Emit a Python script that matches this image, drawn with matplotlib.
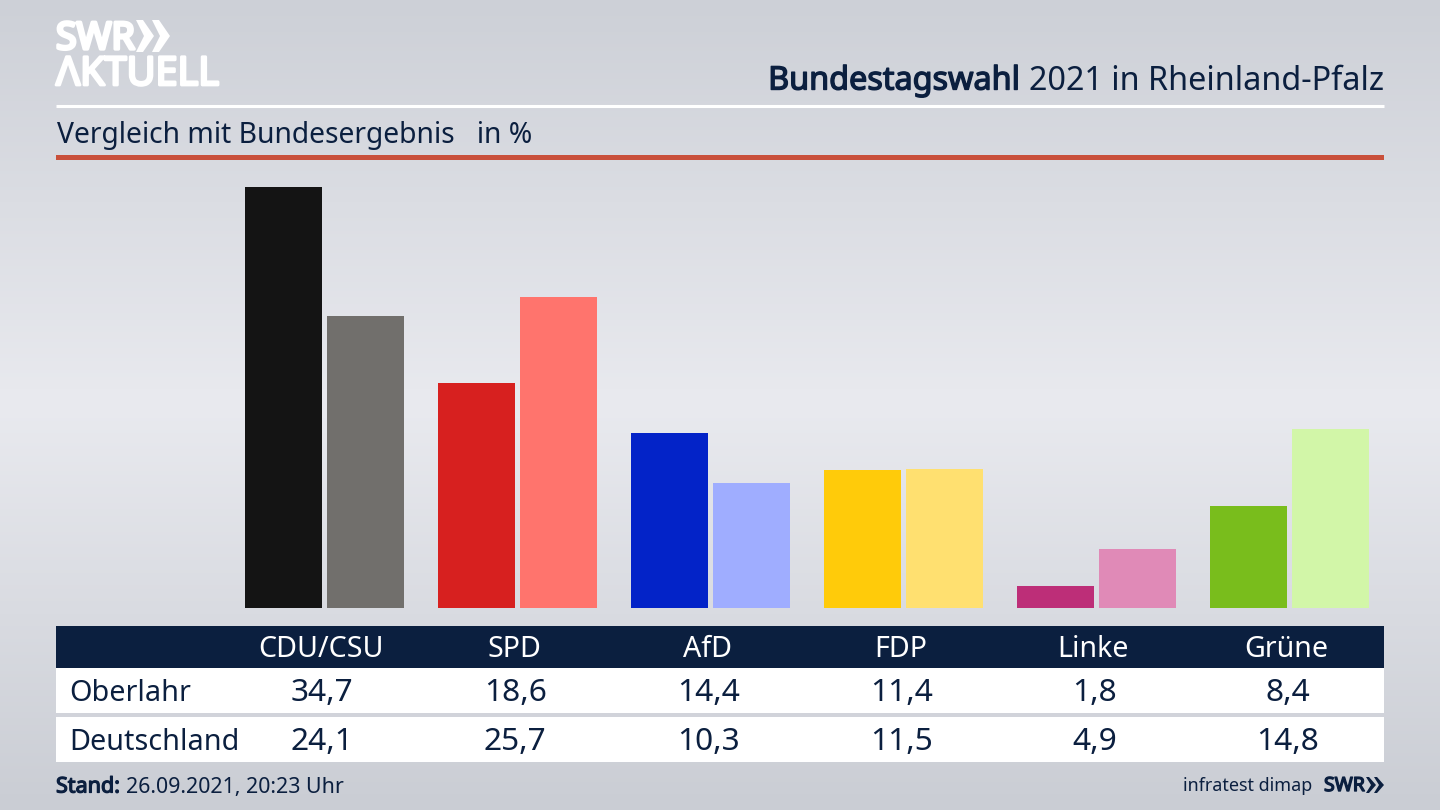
import numpy as np
import matplotlib
matplotlib.use("Agg")
import matplotlib.pyplot as plt
import matplotlib.patheffects as pe
from matplotlib.patches import Rectangle, Polygon
from matplotlib.colors import LinearSegmentedColormap

parties = ["CDU/CSU", "SPD", "AfD", "FDP", "Linke", "Grüne"]
oberlahr = [34.7, 18.6, 14.4, 11.4, 1.8, 8.4]
deutschland = [24.1, 25.7, 10.3, 11.5, 4.9, 14.8]
colors_o = ["#141414", "#d7201f", "#0323c8", "#ffcb0a", "#bd2e78", "#79bd1c"]
colors_d = ["#716f6c", "#ff746d", "#9fadff", "#ffe070", "#e08ab7", "#d2f6a8"]
row_labels = ["Oberlahr", "Deutschland"]

NAVY = "#0b1f3f"
FONT = "Noto Sans"
plt.rcParams["font.family"] = [FONT, "DejaVu Sans"]

W, H = 1440, 810
fig = plt.figure(figsize=(W / 100, H / 100), dpi=100)


def heavy(color, width):
    return [pe.withStroke(linewidth=width, foreground=color)]


# page layer in pixel coordinates
bg = fig.add_axes([0, 0, 1, 1])
bg.set_xlim(0, W)
bg.set_ylim(H, 0)
bg.axis("off")
cmap = LinearSegmentedColormap.from_list("page", ["#cdd0d7", "#e9eaef", "#cacdd4"])
bg.imshow(np.linspace(0, 1, 256)[:, None], cmap=cmap, extent=(0, W, H, 0), aspect="auto", zorder=0)

# logo
bg.text(56, 39, "SWR", color="white", fontsize=27, va="center", ha="left",
        path_effects=heavy("white", 2.4))
for dx in (0, 16):
    x0 = 136 + dx
    bg.add_patch(Polygon([(x0, 20), (x0 + 7, 20), (x0 + 18, 36), (x0 + 7, 52), (x0, 52), (x0 + 8, 36)],
                         closed=True, fc="white", ec="none", zorder=3))
bg.text(56, 75, "ΛKTUELL", color="white", fontsize=28.5, va="center", ha="left",
        path_effects=heavy("white", 2.0))

# title
bg.plot([56, 1384], [105.5, 105.5], color="white", lw=2.2, solid_capstyle="butt")
bg.add_patch(Rectangle((56, 155), 1328, 5, fc="#c9503b", ec="none"))
t2 = bg.text(1384, 81, "2021 in Rheinland-Pfalz", color=NAVY, fontsize=23.3, va="center", ha="right")
fig.canvas.draw()
bb = t2.get_window_extent()
bg.text(bb.x0 - 9, 81, "Bundestagswahl", color=NAVY, fontsize=23.3, va="center", ha="right",
        path_effects=heavy(NAVY, 1.0))
bg.text(57, 135, "Vergleich mit Bundesergebnis   in %", color=NAVY, fontsize=20.35, va="center", ha="left")

# chart
x_first, x_step = 324.5, 193.1
bar_w = 77 / x_step
offset = 41 / x_step
baseline, per_unit = 608.0, 12.12
ax = fig.add_axes([0, (H - baseline) / H, 1, baseline / H])
ax.patch.set_alpha(0)
ax.set_xlim(-x_first / x_step, (W - x_first) / x_step)
ax.set_ylim(0, baseline / per_unit)
ax.axis("off")
idx = np.arange(len(parties))
ax.bar(idx - offset, oberlahr, width=bar_w, color=colors_o)
ax.bar(idx + offset, deutschland, width=bar_w, color=colors_d)

# table
bg.add_patch(Rectangle((56, 626), 1328, 42, fc=NAVY, ec="none", zorder=2))
bg.add_patch(Rectangle((56, 668), 1328, 45, fc="white", ec="none", zorder=2))
bg.add_patch(Rectangle((56, 717), 1328, 45, fc="white", ec="none", zorder=2))
centers = 321 + idx * x_step
for c, p, a, b in zip(centers, parties, oberlahr, deutschland):
    bg.text(c, 657, p, color="white", fontsize=20.6, ha="center", va="baseline", zorder=4)
    bg.text(c + 1, 701, f"{a:.1f}".replace(".", ","), color=NAVY, fontsize=22.8, ha="center", va="baseline", zorder=4)
    bg.text(c + 1, 750, f"{b:.1f}".replace(".", ","), color=NAVY, fontsize=22.8, ha="center", va="baseline", zorder=4)
bg.text(69, 701, row_labels[0], color=NAVY, fontsize=20.7, ha="left", va="baseline", zorder=4)
bg.text(69, 750, row_labels[1], color=NAVY, fontsize=20.7, ha="left", va="baseline", zorder=4)

# footer
bg.text(56, 787, "Stand:", color=NAVY, fontsize=15.5, ha="left", va="center", path_effects=heavy(NAVY, 0.9))
bg.text(126, 787, "26.09.2021, 20:23 Uhr", color=NAVY, fontsize=15.4, ha="left", va="center")
bg.text(1312, 786, "infratest dimap", color=NAVY, fontsize=12.9, ha="right", va="center")
bg.text(1324, 786, "SWR", color=NAVY, fontsize=14, ha="left", va="center", path_effects=heavy(NAVY, 1.0))
for dx in (0, 8):
    x0 = 1366 + dx
    bg.add_patch(Polygon([(x0, 777), (x0 + 3, 777), (x0 + 10, 785), (x0 + 3, 793), (x0, 793), (x0 + 5, 785)],
                         closed=True, fc=NAVY, ec="none", zorder=3))

fig.savefig("out.png", dpi=100)
